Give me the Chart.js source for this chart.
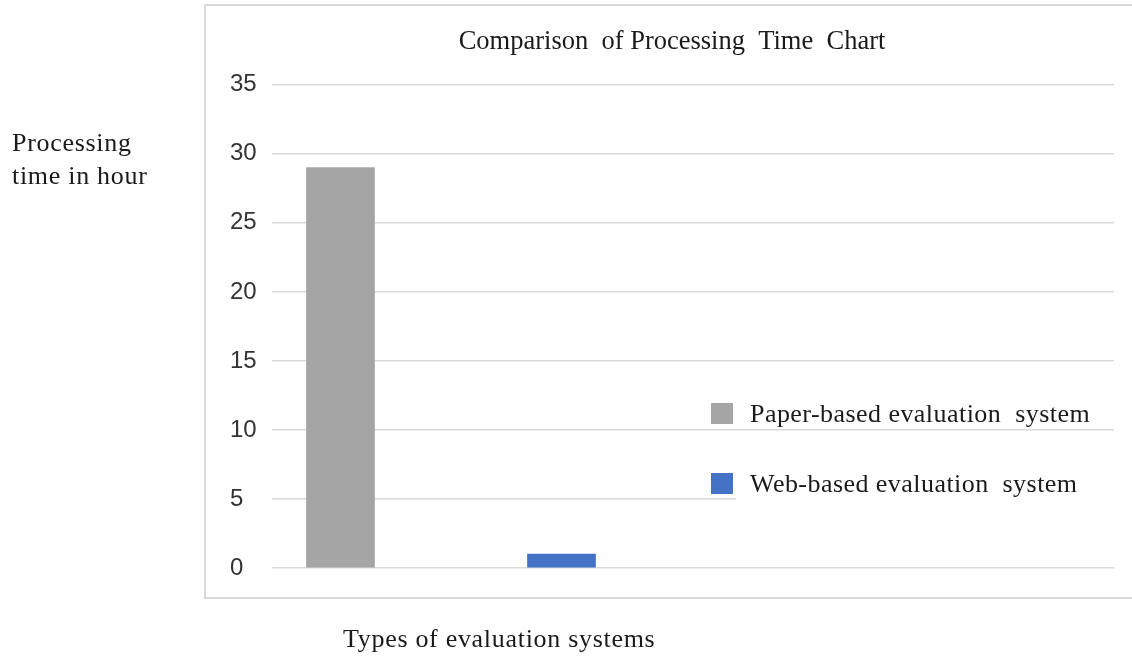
<!DOCTYPE html>
<html>
<head>
<meta charset="utf-8">
<title>Comparison of Processing Time Chart</title>
<script src="https://cdn.jsdelivr.net/npm/chart.js@4.4.1/dist/chart.umd.min.js"></script>
<style>
  body { margin: 0; background: #fff; }
  #wrap { width: 1132px; height: 656px; }
</style>
</head>
<body>
<div id="wrap"><canvas id="time_chart" width="1132" height="656"></canvas></div>
<script>
var systemNames = ['Paper-based evaluation  system', 'Web-based evaluation  system'];
var processingHours = [29, 1];
var barColors = ['#a5a5a5', '#4472c4'];
var yTicks = [0, 5, 10, 15, 20, 25, 30, 35];

var chartTitle = 'Comparison  of Processing  Time  Chart';
var yTitleLines = ['Processing', 'time in hour'];
var xTitle = 'Types of evaluation systems';

var serif = "'Liberation Serif', 'Times New Roman', serif";
var sans = "'Liberation Sans Narrow', 'Liberation Sans', sans-serif";
var textColor = '#1a1a1a';

// one dataset per system so each gets its own legend entry
var datasets = [];
for (var i = 0; i < systemNames.length; i++) {
    datasets.push({
        label: systemNames[i],
        data: [{ x: i + 1, y: processingHours[i] }],
        backgroundColor: barColors[i],
        barThickness: 68,
        grouped: false
    });
}

// light grey frame round the plot, like the office export
var framePlugin = {
    id: 'frame',
    beforeDraw: function(chart) {
        var ctx = chart.ctx;
        ctx.save();
        ctx.strokeStyle = '#d9d9d9';
        ctx.lineWidth = 2;
        ctx.strokeRect(205, 5, 1140, 593);
        ctx.restore();
    }
};

// axis titles sit outside the frame and the legend sits inside the plot
var textPlugin = {
    id: 'outerText',
    afterDraw: function(chart) {
        var ctx = chart.ctx;
        var area = chart.chartArea;
        ctx.save();
        ctx.letterSpacing = '0.7px';
        ctx.fillStyle = textColor;
        ctx.font = '26px ' + serif;
        ctx.textAlign = 'left';
        ctx.textBaseline = 'alphabetic';
        for (var i = 0; i < yTitleLines.length; i++) {
            ctx.fillText(yTitleLines[i], 12, 151 + i * 33);
        }
        ctx.fillText(xTitle, 343, 647);

        // legend background hides the grid line behind the lower entry
        ctx.fillStyle = '#fff';
        ctx.fillRect(736, 440, area.right - 736 + 1, 64);

        ctx.letterSpacing = '0.45px';
        var ds = chart.data.datasets;
        for (var j = 0; j < ds.length; j++) {
            var base = 422 + j * 70;
            ctx.fillStyle = ds[j].backgroundColor;
            ctx.fillRect(711, base - 19, 22, 21);
            ctx.fillStyle = textColor;
            ctx.fillText(ds[j].label, 750, base);
        }
        ctx.restore();
    }
};

var ctxTime = document.getElementById('time_chart').getContext('2d');

var time_chart = new Chart(ctxTime, {
    type: 'bar',
    data: { datasets: datasets },
    options: {
        responsive: false,
        animation: false,
        layout: { padding: { left: 230, right: 18, top: 26, bottom: 88 } },
        plugins: {
            legend: { display: false },
            tooltip: { enabled: false },
            title: {
                display: true,
                text: chartTitle,
                color: textColor,
                font: { family: serif, size: 26.5, weight: 'normal', lineHeight: 1.2 },
                padding: { top: 0, bottom: 27 }
            }
        },
        scales: {
            x: {
                type: 'linear',
                display: false,
                offset: false,
                min: 0.69,
                max: 4.5
            },
            y: {
                min: yTicks[0],
                max: yTicks[yTicks.length - 1],
                afterFit: function(scale) { scale.width = 42; },
                ticks: {
                    stepSize: yTicks[1] - yTicks[0],
                    crossAlign: 'far',
                    color: '#333',
                    padding: 0,
                    font: { family: sans, size: 24 }
                },
                grid: { color: '#d9d9d9', lineWidth: 1.5, drawTicks: false },
                border: { display: false }
            }
        }
    },
    plugins: [framePlugin, textPlugin]
});
</script>
</body>
</html>
